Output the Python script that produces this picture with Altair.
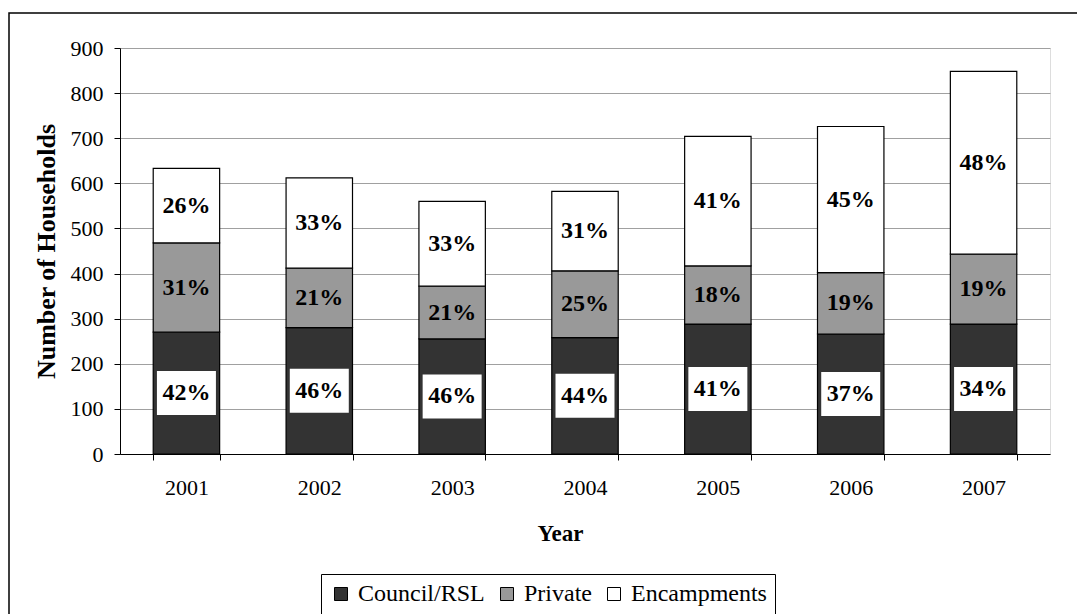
import altair as alt
import pandas as pd

years = ["2001", "2002", "2003", "2004", "2005", "2006", "2007"]
council = [270, 280, 255, 258, 288, 266, 288]
private = [198, 132, 117, 148, 129, 136, 155]
encampments = [165, 200, 188, 176, 287, 324, 405]
council_pct = ["42%", "46%", "46%", "44%", "41%", "37%", "34%"]
private_pct = ["31%", "21%", "21%", "25%", "18%", "19%", "19%"]
enc_pct = ["26%", "33%", "33%", "31%", "41%", "45%", "48%"]
categories = ["Council/RSL", "Private", "Encampments"]
colors = ["#333333", "#999999", "#ffffff"]

rows = []
for i, y in enumerate(years):
    start = 0
    for cat, vals, pcts, k in [(categories[0], council, council_pct, 0),
                               (categories[1], private, private_pct, 1),
                               (categories[2], encampments, enc_pct, 2)]:
        v = vals[i]
        rows.append({"year": y, "cat": cat, "order": k, "start": start,
                     "end": start + v, "mid": start + v / 2, "label": pcts[i]})
        start += v
df = pd.DataFrame(rows)

FONT = "Liberation Serif"

x_enc = alt.X("year:N", sort=years,
              scale=alt.Scale(paddingInner=0.5, paddingOuter=0.25),
              axis=alt.Axis(title="Year", titleFont=FONT, titleFontSize=23,
                            titleFontWeight="bold", titleColor="black",
                            titlePadding=24, titleX=440,
                            labelFont=FONT, labelFontSize=22, labelColor="black",
                            labelAngle=0, labelPadding=17,
                            tickBand="extent", tickSize=6, tickColor="black",
                            domainColor="black", domainWidth=1, grid=False))

y_scale = alt.Scale(domain=[0, 900], nice=False)

bars = alt.Chart(df).mark_bar(stroke="black", strokeWidth=1.2).encode(
    x=x_enc,
    y=alt.Y("start:Q", scale=y_scale,
            axis=alt.Axis(values=list(range(0, 1000, 100)),
                          title="Number of Households", titleFont=FONT,
                          titleFontSize=26, titleFontWeight="bold",
                          titleColor="black", titlePadding=11,
                          labelFont=FONT, labelFontSize=22, labelColor="black",
                          labelPadding=11, tickSize=6, tickColor="black",
                          domainColor="black", domainWidth=1,
                          gridColor="#a0a0a0", gridWidth=1)),
    y2="end:Q",
    color=alt.Color("cat:N",
                    scale=alt.Scale(domain=categories, range=colors),
                    legend=alt.Legend(orient="none", legendX=201, legendY=526,
                                      direction="horizontal", title=None,
                                      symbolType="square", symbolSize=169,
                                      symbolStrokeColor="black",
                                      symbolStrokeWidth=1, symbolOpacity=1,
                                      labelFont=FONT, labelFontSize=24,
                                      labelColor="black", labelOffset=5,
                                      columnPadding=10, padding=8,
                                      strokeColor="black", fillColor="white")),
)

boxes = alt.Chart(df).transform_filter(alt.datum.order == 0).mark_point(
    shape="M-1,-0.746H1V0.746H-1Z", size=3481, filled=True,
    fill="white", opacity=1, strokeWidth=0).encode(
    x=alt.X("year:N", sort=years),
    y=alt.Y("mid:Q", scale=y_scale),
)

labels = alt.Chart(df).mark_text(font=FONT, fontSize=24, fontWeight="bold",
                                 color="black", baseline="middle",
                                 align="center").encode(
    x=alt.X("year:N", sort=years),
    y=alt.Y("mid:Q", scale=y_scale),
    text="label:N",
)

frame = alt.Chart(pd.DataFrame({"a": [0]})).mark_rect(
    fillOpacity=0, stroke="black", strokeWidth=1.5).encode(
    x=alt.value(-111), x2=alt.value(1000),
    y=alt.value(-35), y2=alt.value(600),
)

chart = alt.layer(frame, bars, boxes, labels).properties(
    width=930, height=406,
    autosize=alt.AutoSizeParams(type="none"),
    padding={"left": 112, "top": 40, "right": 27, "bottom": 160},
).configure_view(stroke="#808080", strokeWidth=1).configure(font=FONT)

chart.save("out.html", embed_options={"renderer": "svg", "actions": False})
